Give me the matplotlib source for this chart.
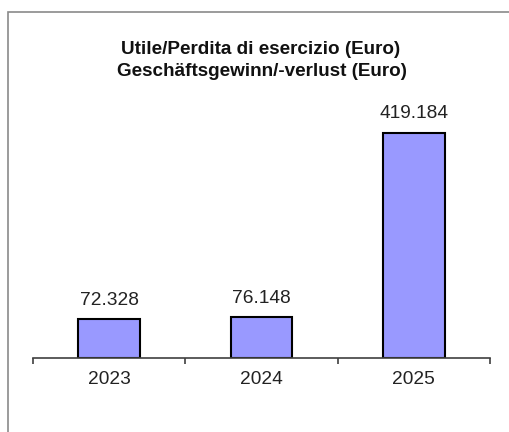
import numpy as np
import matplotlib
matplotlib.use("Agg")
import matplotlib.pyplot as plt
from matplotlib.patches import Rectangle

plt.rcParams["font.family"] = ["Liberation Sans", "DejaVu Sans"]

years = ["2023", "2024", "2025"]
values = [72.328, 76.148, 419.184]
value_labels = ["72.328", "76.148", "419.184"]

fig = plt.figure(figsize=(5.09, 4.32), dpi=100)
fig.patch.set_facecolor("white")

# grey outer frame, open towards right/bottom edge
fig.add_artist(Rectangle((8 / 509, -0.05), 1.2, 1 - 12 / 432 + 0.05,
                         transform=fig.transFigure, fill=False,
                         edgecolor="#8a8a8a", linewidth=1.2))

ax = fig.add_axes([33 / 509, 74 / 432, 457 / 509, 241.6 / 432])
x = np.arange(len(years))
ax.bar(x, values, width=0.405, color="#9999ff", edgecolor="black", linewidth=1.5)

for xi, v, lab in zip(x, values, value_labels):
    ax.annotate(lab, (xi, v), xytext=(0, 10.5), textcoords="offset points",
                ha="center", va="baseline", fontsize=13.8, color="#222222")

ax.set_xlim(-0.5, 2.5)
ax.set_ylim(0, 450)
ax.set_xticks([-0.5, 0.5, 1.5, 2.5])
ax.set_xticklabels([])
ax.set_xticks(x, minor=True)
ax.set_xticklabels(years, minor=True, fontsize=13.8, color="#222222")
ax.tick_params(axis="x", which="major", length=4, width=1.2, color="#404040", direction="out")
ax.tick_params(axis="x", which="minor", length=0, pad=9)
ax.set_yticks([])
for s in ["top", "right", "left"]:
    ax.spines[s].set_visible(False)
ax.spines["bottom"].set_color("#404040")
ax.spines["bottom"].set_linewidth(1.2)

fig.text(261 / 509, 1 - 54 / 432, "Utile/Perdita di esercizio (Euro)",
         ha="center", va="baseline", fontsize=13.6, fontweight="bold", color="#111111")
fig.text(262 / 509, 1 - 75.5 / 432, "Geschäftsgewinn/-verlust (Euro)",
         ha="center", va="baseline", fontsize=13.6, fontweight="bold", color="#111111")

fig.savefig("out.png", dpi=100)
